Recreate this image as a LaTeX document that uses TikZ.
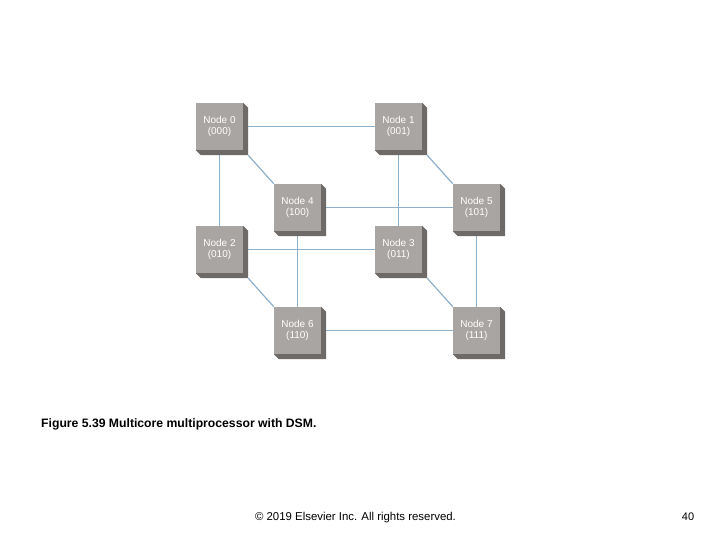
\documentclass[tikz,border=0pt]{standalone}
\usepackage{fontspec}
\setmainfont{Liberation Sans}
\usetikzlibrary{backgrounds}
\definecolor{faceC}{HTML}{A9A5A3}
\definecolor{sideC}{HTML}{6E6A68}
\definecolor{linkC}{HTML}{8FB0CC}
\tikzset{
  cube/.style={fill=faceC, minimum width=47pt, minimum height=47pt, inner sep=0pt,
    text=white, align=center, font=\fontsize{10}{11.5}\selectfont},
  link/.style={draw=linkC, line width=1.2pt},
}
\begin{document}
\begin{tikzpicture}[x=1pt,y=-1pt]
\useasboundingbox (0,0) rectangle (720,540);
\node[cube] (n0) at (219.5,126.5) {Node 0\\(000)};
\node[cube] (n1) at (398.5,126.5) {Node 1\\(001)};
\node[cube] (n4) at (297.5,207.5) {Node 4\\(100)};
\node[cube] (n5) at (476.5,207.5) {Node 5\\(101)};
\node[cube] (n2) at (219.5,249.5) {Node 2\\(010)};
\node[cube] (n3) at (398.5,249.5) {Node 3\\(011)};
\node[cube] (n6) at (297.5,330.5) {Node 6\\(110)};
\node[cube] (n7) at (476.5,330.5) {Node 7\\(111)};
\foreach \n in {n0,n1,n2,n3,n4,n5,n6,n7}{
  \fill[sideC] (\n.north east) -- ([shift={(5,5)}]\n.north east) -- ([shift={(5,5)}]\n.south east)
    -- ([shift={(5,5)}]\n.south west) -- (\n.south west) -- (\n.south east) -- cycle;
}
\begin{scope}[on background layer]
\draw[link] (n0) -- (n1);
\draw[link] (n0) -- (n2);
\draw[link] (n1) -- (n3);
\draw[link] (n2) -- (n3);
\draw[link] (n4) -- (n5);
\draw[link] (n4) -- (n6);
\draw[link] (n5) -- (n7);
\draw[link] (n6) -- (n7);
\draw[link] ([shift={(5,5)}]n0.south east) -- (n4.north west);
\draw[link] ([shift={(5,5)}]n1.south east) -- (n5.north west);
\draw[link] ([shift={(5,5)}]n2.south east) -- (n6.north west);
\draw[link] ([shift={(5,5)}]n3.south east) -- (n7.north west);
\end{scope}
\node[anchor=west, font=\bfseries\fontsize{12.2}{14}\selectfont, inner sep=0pt] (cap) at (41,424) {Figure 5.39 Multicore multiprocessor with DSM.};
\node[font=\fontsize{11.4}{13}\selectfont, inner sep=0pt] (copy) at (355.5,518) {© 2019 Elsevier Inc. All rights reserved.};
\node[font=\fontsize{11}{13}\selectfont, inner sep=0pt] (pg) at (688,517) {40};
\end{tikzpicture}
\end{document}
